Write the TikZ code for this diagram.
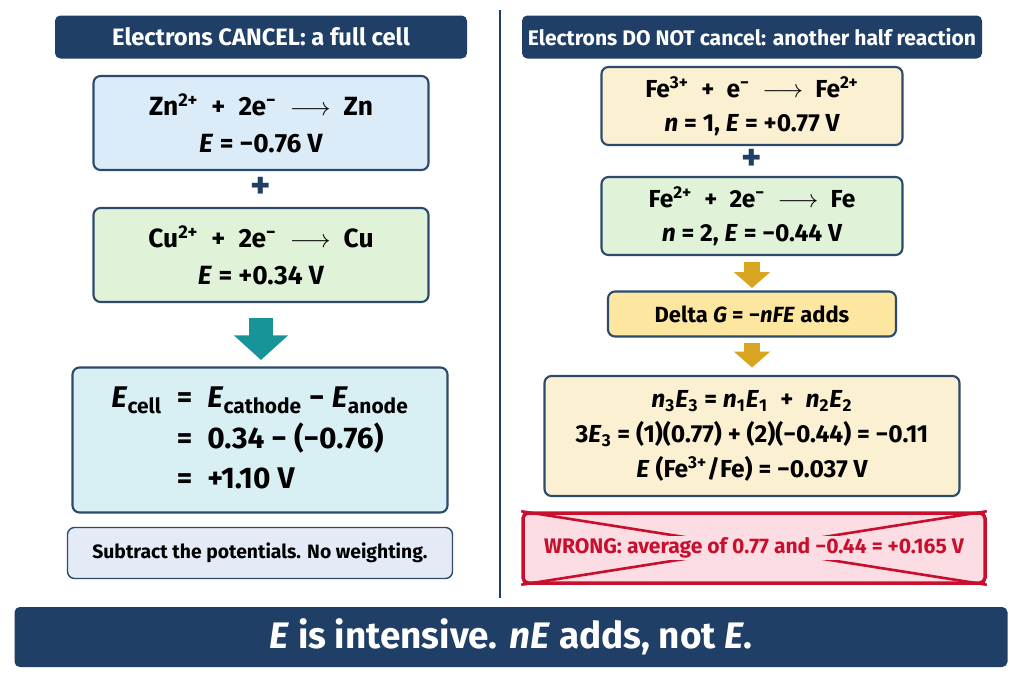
\documentclass[tikz,border=0pt]{standalone}
\usepackage{fontspec}
\setmainfont{Fira Sans}
\usetikzlibrary{arrows.meta}
\definecolor{navy}{HTML}{1F3F66}
\definecolor{boxline}{HTML}{2C4A6E}
\definecolor{blueish}{HTML}{DCEBF8}
\definecolor{greenish}{HTML}{E0F2D8}
\definecolor{cyanish}{HTML}{D8F0F4}
\definecolor{greyblue}{HTML}{E4EBF6}
\definecolor{creamish}{HTML}{FBF0D2}
\definecolor{goldfill}{HTML}{FDE7A0}
\definecolor{gold}{HTML}{D9A520}
\definecolor{tealish}{HTML}{17939A}
\definecolor{wrongred}{HTML}{C8102E}
\definecolor{wrongfill}{HTML}{FBDDE3}
\newcommand{\rxn}{\enspace$\longrightarrow$\enspace}
\newcommand{\pl}{\enspace+\enspace}
\begin{document}
\begin{tikzpicture}[x=0.02cm,y=-0.02cm,font=\bfseries,
  header/.style={fill=navy,text=white,rounded corners=3pt,inner sep=0pt},
  eq box/.style={draw=boxline,line width=1.2pt,rounded corners=4pt,inner sep=0pt,align=center},
  plus/.style={text=navy,font=\bfseries\fontsize{22}{22}\selectfont}]
\useasboundingbox (0,0) rectangle (1024,683);

% headers and divider
\node[header,minimum width=412*0.02cm,minimum height=43*0.02cm,font=\bfseries\fontsize{13.5}{14}\selectfont] (hl) at (261,37) {Electrons CANCEL: a full cell};
\node[header,minimum width=460*0.02cm,minimum height=43*0.02cm,font=\bfseries\fontsize{12}{14}\selectfont] (hr) at (752,37) {Electrons DO NOT cancel: another half reaction};
\draw[navy,line width=1pt] (500,10) -- (500,598);

% left column
\node[eq box,fill=blueish,minimum width=335*0.02cm,minimum height=94*0.02cm,font=\bfseries\fontsize{15}{21}\selectfont] (zn) at (261,123)
  {Zn\textsuperscript{2+}\pl2e\textsuperscript{−}\rxn Zn\\ \textit{E} = −0.76 V};
\node[plus] (p1) at (261,188) {+};
\node[eq box,fill=greenish,minimum width=335*0.02cm,minimum height=94*0.02cm,font=\bfseries\fontsize{15}{21}\selectfont] (cu) at (261,255)
  {Cu\textsuperscript{2+}\pl2e\textsuperscript{−}\rxn Cu\\ \textit{E} = +0.34 V};
\coordinate (a1) at (261,318);
\coordinate (a2) at (261,360);
\draw[tealish,line width=14pt,-{Triangle[width=30pt,length=14pt]}] (a1) -- (a2);
\node[eq box,fill=cyanish,minimum width=375*0.02cm,minimum height=145*0.02cm,font=\bfseries\fontsize{17}{23}\selectfont] (ecell) at (260,440)
  {\begin{tabular}{@{}r@{\enspace=\enspace}l@{}}
   \textit{E}\textsubscript{cell} & \textit{E}\textsubscript{cathode} − \textit{E}\textsubscript{anode}\\
    & 0.34 − (−0.76)\\
    & +1.10 V
   \end{tabular}};
\node[eq box,line width=0.8pt,fill=greyblue,minimum width=385*0.02cm,minimum height=51*0.02cm,font=\bfseries\fontsize{11}{12}\selectfont] (sub) at (260,553)
  {Subtract the potentials. No weighting.};

% right column
\node[eq box,fill=creamish,minimum width=301*0.02cm,minimum height=78*0.02cm,font=\bfseries\fontsize{14}{19}\selectfont] (fe3) at (752,106)
  {Fe\textsuperscript{3+}\pl e\textsuperscript{−}\rxn Fe\textsuperscript{2+}\\ \textit{n} = 1, \textit{E} = +0.77 V};
\node[plus] (p2) at (752,160) {+};
\node[eq box,fill=greenish,minimum width=301*0.02cm,minimum height=78*0.02cm,font=\bfseries\fontsize{14}{19}\selectfont] (fe2) at (752,216)
  {Fe\textsuperscript{2+}\pl2e\textsuperscript{−}\rxn Fe\\ \textit{n} = 2, \textit{E} = −0.44 V};
\draw[gold,line width=9pt,-{Triangle[width=20pt,length=9pt]}] (fe2.south) ++(0,6) coordinate (b1) -- ++(0,26) coordinate (b2);
\node[eq box,fill=goldfill,minimum width=288*0.02cm,minimum height=45*0.02cm,font=\bfseries\fontsize{12.5}{14}\selectfont] (dg) at (752,314)
  {Delta \textit{G} = −\textit{nFE} adds};
\draw[gold,line width=9pt,-{Triangle[width=20pt,length=9pt]}] (dg.south) ++(0,5) coordinate (c1) -- ++(0,25) coordinate (c2);
\node[eq box,fill=creamish,minimum width=415*0.02cm,minimum height=120*0.02cm,font=\bfseries\fontsize{14}{20}\selectfont] (big) at (752,436)
  {\textit{n}\textsubscript{3}\textit{E}\textsubscript{3} = \textit{n}\textsubscript{1}\textit{E}\textsubscript{1}\pl\textit{n}\textsubscript{2}\textit{E}\textsubscript{2}\\
   3\textit{E}\textsubscript{3} = (1)(0.77) + (2)(−0.44) = −0.11\\
   \textit{E} (Fe\textsuperscript{3+}/Fe) = −0.037 V};
\node[draw=wrongred,line width=2pt,fill=wrongfill,rounded corners=3pt,minimum width=462*0.02cm,minimum height=70*0.02cm] (wrong) at (754,548) {};
\draw[wrongred,line width=1.5pt] (wrong.north west) -- (wrong.south east) (wrong.south west) -- (wrong.north east);
\node[fill=wrongfill,inner sep=1pt,text=wrongred,font=\bfseries\fontsize{12}{14}\selectfont] (wt) at (wrong) {WRONG: average of 0.77 and −0.44 = +0.165 V};

% bottom banner
\node[header,minimum width=993*0.02cm,minimum height=60*0.02cm,font=\bfseries\fontsize{21}{24}\selectfont] (banner) at (511,637)
  {\textit{E} is intensive. \textit{nE} adds, not \textit{E}.};
\end{tikzpicture}
\end{document}
